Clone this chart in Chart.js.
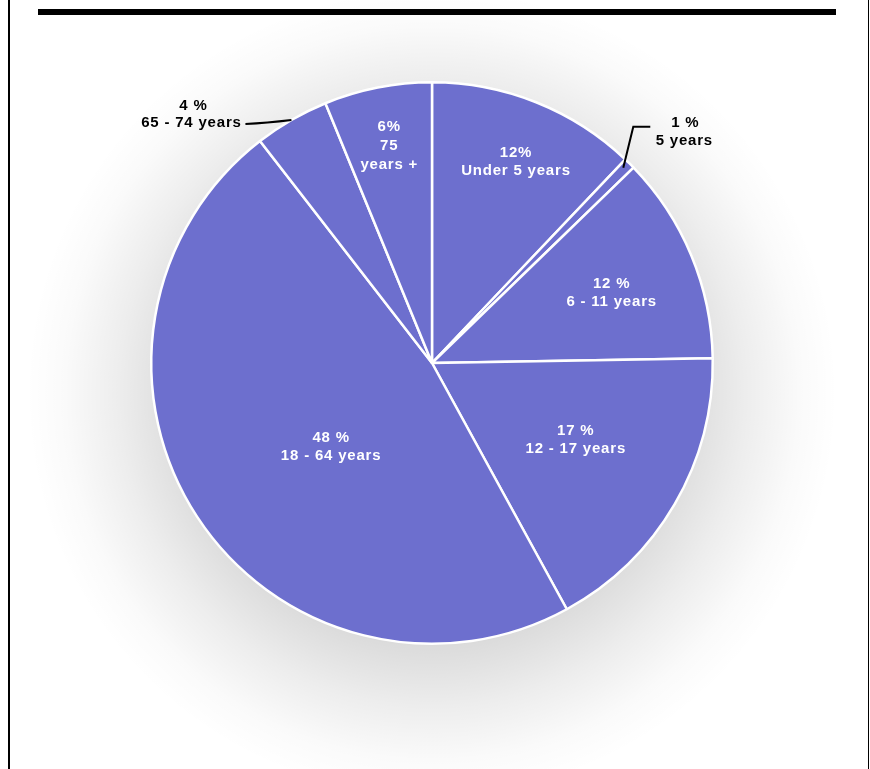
<!DOCTYPE html>
<html>
<head>
<meta charset="utf-8">
<script src="https://cdn.jsdelivr.net/npm/chart.js@4/dist/chart.umd.min.js"></script>
<style>
html, body { margin: 0; padding: 0; background: #fff; }
#wrap { position: relative; width: 870px; height: 769px; }
</style>
</head>
<body>
<div id="wrap"><canvas id="ageChart" width="870" height="769"></canvas></div>
<script>
// age groups, clockwise from 12 o'clock
const categories = ['Under 5 years', '5 years', '6 - 11 years', '12 - 17 years', '18 - 64 years', '65 - 74 years', '75 years +'];
// slice sizes
const shares = [12.1, 0.65, 12.0, 17.3, 47.5, 4.3, 6.2];
// printed labels
const percentLabels = ['12%', '1 %', '12 %', '17 %', '48 %', '4 %', '6%'];
const groupLabels = [['Under 5 years'], ['5 years'], ['6 - 11 years'], ['12 - 17 years'], ['18 - 64 years'], ['65 - 74 years'], ['75', 'years +']];

const sliceColor = '#6D6FCE';
const labelFont = 'bold 15px "Liberation Sans", Arial, sans-serif';

// where inside labels sit: fraction of radius + small angle nudge (degrees)
const insideSpots = {
    0: { r: 0.776, da: 0.9 },
    2: { r: 0.687, da: 1.2 },
    3: { r: 0.581, da: -2 },
    4: { r: 0.468, da: -6.6 },
    6: { r: 0.787, da: 0 }
};

const backdrop = {
    id: 'backdrop',
    beforeDraw(chart) {
        const ctx = chart.ctx;
        const arc = chart.getDatasetMeta(0).data[0];
        const cx = arc.x, cy = arc.y, R = arc.outerRadius;
        ctx.save();
        ctx.fillStyle = '#fff';
        ctx.fillRect(0, 0, chart.width, chart.height);
        // soft grey glow behind the pie
        const g = ctx.createRadialGradient(cx, cy + 30, R * 0.9, cx, cy + 30, R + 125);
        g.addColorStop(0, 'rgba(0,0,0,0.14)');
        g.addColorStop(0.4, 'rgba(0,0,0,0.07)');
        g.addColorStop(0.75, 'rgba(0,0,0,0.02)');
        g.addColorStop(1, 'rgba(0,0,0,0)');
        ctx.fillStyle = g;
        ctx.fillRect(0, 0, chart.width, chart.height);
        // frame
        ctx.fillStyle = '#000';
        ctx.fillRect(8, 0, 2, chart.height);
        ctx.fillRect(868, 0, 1, chart.height);
        ctx.fillRect(38, 9, 798, 6);
        ctx.restore();
    }
};

const drawLines = (ctx, lines, x, y, gap) => {
    const top = y - (lines.length - 1) * gap / 2;
    lines.forEach((t, i) => ctx.fillText(t, x, top + i * gap));
};

const sliceLabelsPlugin = {
    id: 'sliceLabels',
    afterDraw(chart) {
        const ctx = chart.ctx;
        const arcs = chart.getDatasetMeta(0).data;
        ctx.save();
        ctx.font = labelFont;
        ctx.letterSpacing = '0.8px';
        ctx.textAlign = 'center';
        ctx.textBaseline = 'middle';
        arcs.forEach((arc, i) => {
            const mid = (arc.startAngle + arc.endAngle) / 2;
            const lines = [percentLabels[i]].concat(groupLabels[i]);
            const spot = insideSpots[i];
            if (spot) {
                const a = mid + spot.da * Math.PI / 180;
                const r = arc.outerRadius * spot.r;
                ctx.fillStyle = '#fff';
                drawLines(ctx, lines, arc.x + r * Math.cos(a), arc.y + r * Math.sin(a), lines.length > 2 ? 19 : 18);
                return;
            }
            // outside labels with leader lines
            ctx.fillStyle = '#000';
            ctx.strokeStyle = '#000';
            ctx.lineWidth = 2;
            if (i === 5) {
                const ax = arc.x + arc.outerRadius * Math.cos(mid);
                const ay = arc.y + arc.outerRadius * Math.sin(mid);
                ctx.beginPath();
                ctx.moveTo(ax, ay);
                ctx.quadraticCurveTo(ax - 25, ay + 3, ax - 46, ay + 4);
                ctx.stroke();
                ctx.fillText(lines[0], ax - 98, ay - 14);
                ctx.fillText(lines[1], ax - 100, ay + 3);
            } else {
                const r = arc.outerRadius - 6;
                const ax = arc.x + r * Math.cos(mid);
                const ay = arc.y + r * Math.sin(mid);
                ctx.beginPath();
                ctx.moveTo(ax - 2, ay);
                ctx.lineTo(ax + 8, ay - 41);
                ctx.lineTo(ax + 25, ay - 41);
                ctx.stroke();
                ctx.fillText(lines[0], ax + 60, ay - 45);
                ctx.fillText(lines[1], ax + 59, ay - 27);
            }
        });
        ctx.restore();
    }
};

new Chart(document.getElementById('ageChart'), {
    type: 'pie',
    data: {
        labels: categories,
        datasets: [{
            data: shares,
            backgroundColor: sliceColor,
            borderColor: '#fff',
            borderWidth: 2.5,
            hoverOffset: 0
        }]
    },
    options: {
        responsive: false,
        animation: false,
        layout: { padding: { left: 150, right: 156, top: 81, bottom: 124 } },
        plugins: {
            legend: { display: false },
            tooltip: { enabled: false }
        }
    },
    plugins: [backdrop, sliceLabelsPlugin]
});
</script>
</body>
</html>
